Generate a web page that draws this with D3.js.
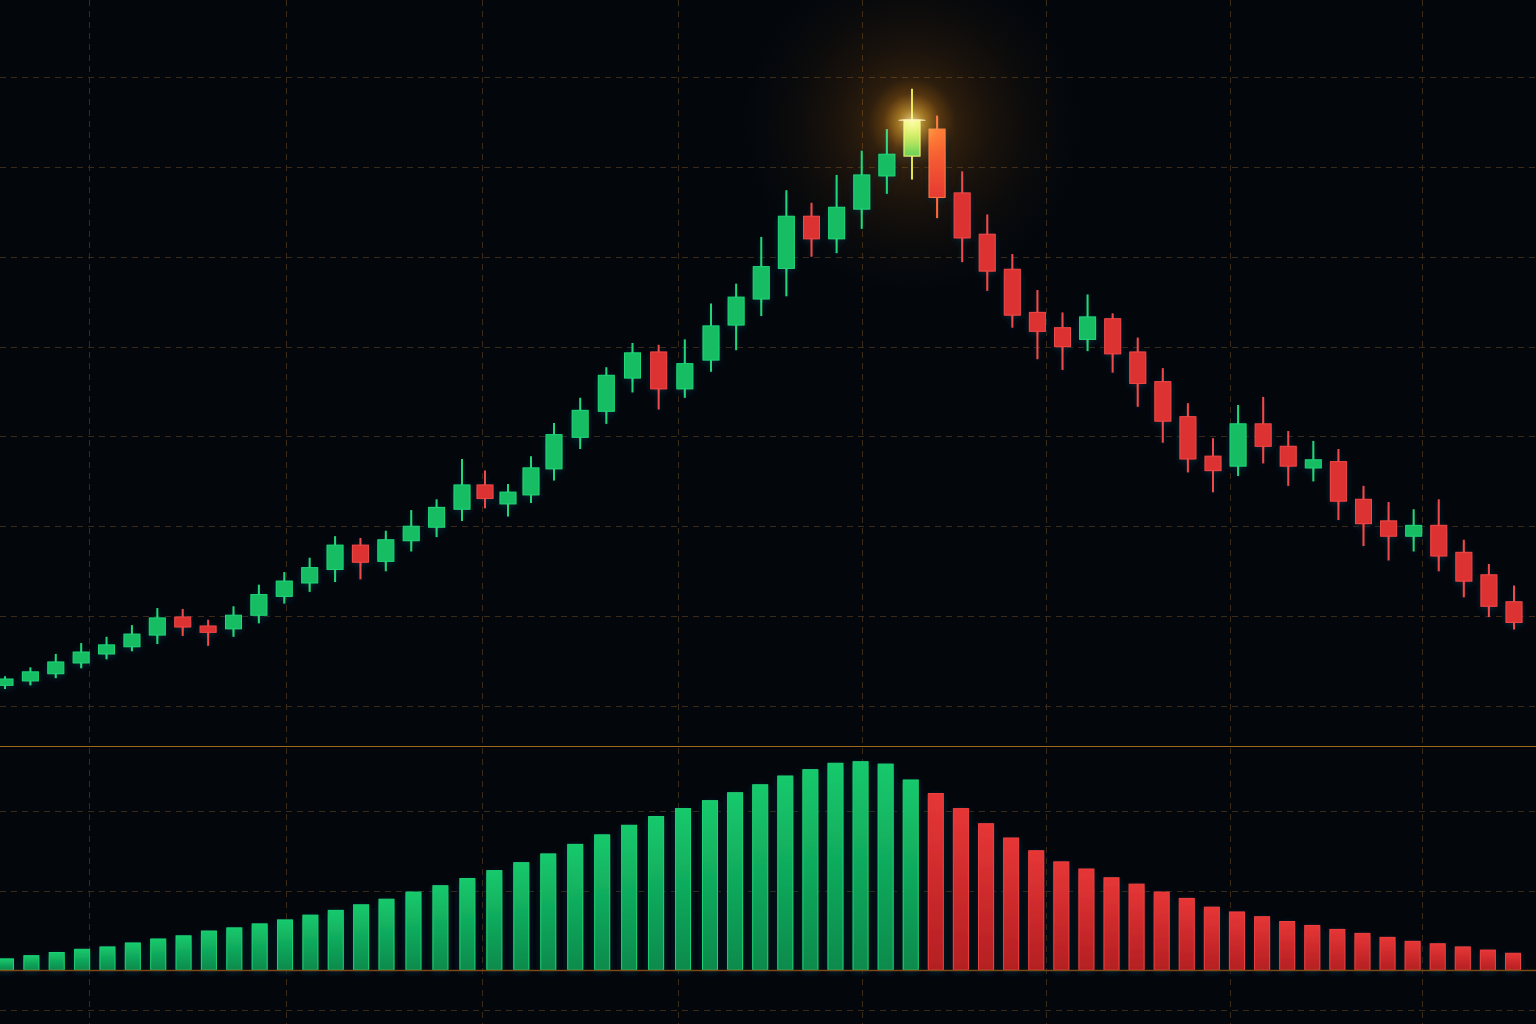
<!DOCTYPE html>
<html>
<head>
<meta charset="utf-8">
<script src="https://cdn.jsdelivr.net/npm/d3@7"></script>
<style>
  html, body { margin: 0; padding: 0; background: #03070c; overflow: hidden; }
  svg { display: block; }
</style>
</head>
<body>
<svg id="chart" width="1536" height="1024"></svg>
<script>
// ---------------- DATA ----------------
const sessions = d3.range(0, 61);

const opens  = [102.3,102.8,103.6,104.8,105.8,106.6,107.9,109.9,108.9,108.6,
                110.1,112.2,113.7,115.2,117.9,116.1,118.4,119.9,121.9,124.6,
                122.5,123.5,126.4,129.9,132.8,136.5,139.4,135.3,138.5,142.4,
                145.3,148.7,154.5,152.0,155.3,159.0,161.2,164.2,157.1,152.5,
                148.6,143.8,142.1,140.8,143.1,139.4,136.1,132.2,127.8,126.7,
                131.4,128.9,126.5,127.2,123.0,120.6,118.9,120.1,117.1,114.6,
                111.6];
const highs  = [103.3,104.3,105.8,107.0,107.7,109.0,110.9,110.8,109.6,111.1,
                113.5,114.9,116.5,118.9,118.7,119.5,121.8,123.0,127.5,126.2,
                124.7,127.8,131.5,134.3,137.7,140.4,140.2,140.8,144.8,147.0,
                152.2,157.4,156.0,159.1,161.8,164.2,168.7,165.7,159.5,154.7,
                150.3,146.3,143.8,145.8,143.7,141.0,137.6,133.7,129.8,133.5,
                134.4,130.6,129.5,128.6,124.5,122.7,121.9,123.0,118.5,115.8,
                113.4];
const lows   = [101.9,102.3,103.1,104.2,105.2,106.1,106.9,107.8,106.7,107.7,
                109.2,111.4,112.7,113.8,114.1,115.0,117.2,118.8,120.6,122.0,
                121.1,122.6,125.1,128.6,131.4,134.9,133.0,134.3,137.2,139.6,
                143.4,145.6,150.0,150.4,153.1,157.0,158.6,154.3,149.4,146.2,
                142.1,138.6,137.4,139.5,137.1,133.3,129.3,126.0,123.8,125.6,
                127.0,124.5,125.0,120.7,117.8,116.2,117.2,115.0,112.1,109.9,
                108.5];
const closes = [103.0,103.8,104.9,106.0,106.8,108.0,109.8,108.8,108.2,110.1,
                112.4,113.9,115.4,117.9,116.0,118.5,120.0,122.1,124.6,123.1,
                123.8,126.5,130.2,132.9,136.8,139.3,135.3,138.1,142.3,145.5,
                148.9,154.5,152.0,155.5,159.1,161.4,165.2,156.6,152.1,148.4,
                143.5,141.7,140.0,143.3,139.2,135.9,131.7,127.5,126.2,131.4,
                128.9,126.7,127.4,122.8,120.3,118.9,120.1,116.7,113.9,111.1,
                109.3];

const volumes = [14,18,22,26,29,34,39,43,49,53,
                 58,63,69,75,82,89,98,106,115,125,
                 135,146,158,170,182,193,203,213,223,233,
                 244,252,260,262,259,239,222,203,184,166,
                 150,136,127,116,108,98,90,79,73,67,
                 61,56,51,46,41,36,33,29,25,21];
const volumeSides = ("U".repeat(36) + "D".repeat(24)).split("");

const priceTicks  = [100,110,120,130,140,150,160,170];
const volumeTicks = [-50,100,200];
const timeTicks   = [3.31,11.07,18.87,26.74,34.01,41.34,48.68,56.33];
const peakSession = 36;

// ---------------- LAYOUT ----------------
const W = 1536, H = 1024;
const svg = d3.select("#chart");

const x  = d3.scaleLinear().domain([0, 18, 22, 28, 36, 60]).range([5, 462, 554, 711, 912, 1514]);
const xv = d3.scaleLinear().domain([0, 15, 27, 59]).range([6, 386.5, 710, 1513]);
const y  = d3.scaleLinear().domain([100, 170]).range([706, 77]);
const yv = d3.scaleLinear().domain([0, 200]).range([970, 811]);

const COL = {
  bg: "#03070c",
  grid: "#3a2b18",
  sep: "#a0661c",
  base: "#7a4a16",
  up: "#12bd63", upStroke: "#22d67a",
  dn: "#dc3232", dnStroke: "#f04848"
};

const defs = svg.append("defs");

function vGrad(id, stops) {
  const g = defs.append("linearGradient").attr("id", id)
    .attr("x1", 0).attr("y1", 0).attr("x2", 0).attr("y2", 1);
  stops.forEach(s => g.append("stop").attr("offset", s[0]).attr("stop-color", s[1]).attr("stop-opacity", s[2] ?? 1));
}
vGrad("volUp", [[0, "#15c96c"], [1, "#0c8a4c"]]);
vGrad("volDn", [[0, "#e63636"], [1, "#b41f22"]]);
vGrad("peakBody", [[0, "#e2f25c"], [1, "#58cf58"]]);
vGrad("peakRed", [[0, "#ff7434"], [1, "#e63a30"]]);

function rGrad(id, stops) {
  const g = defs.append("radialGradient").attr("id", id);
  stops.forEach(s => g.append("stop").attr("offset", s[0]).attr("stop-color", s[1]).attr("stop-opacity", s[2]));
}
rGrad("haze", [[0, "#ff9a1a", 0.30], [0.45, "#b8620c", 0.13], [1, "#402000", 0]]);
rGrad("core", [[0, "#ffe890", 0.85], [0.3, "#ffb830", 0.5], [0.65, "#ff8a10", 0.15], [1, "#ff8000", 0]]);

const sh = defs.append("filter").attr("id", "shadow")
  .attr("x", "-50%").attr("y", "-50%").attr("width", "200%").attr("height", "200%");
sh.append("feDropShadow").attr("dx", 0).attr("dy", 2).attr("stdDeviation", 3)
  .attr("flood-color", "#0b2236").attr("flood-opacity", 0.9);

// background
svg.append("rect").attr("width", W).attr("height", H).attr("fill", COL.bg);

// grid
const grid = svg.append("g").attr("stroke", COL.grid).attr("stroke-width", 1)
  .attr("stroke-dasharray", "6,5").attr("fill", "none");
grid.selectAll("line.v").data(timeTicks).join("line").attr("class", "v")
  .attr("x1", d => Math.round(x(d)) + 0.5).attr("x2", d => Math.round(x(d)) + 0.5)
  .attr("y1", 0).attr("y2", H);
grid.selectAll("line.h").data(priceTicks).join("line").attr("class", "h")
  .attr("x1", 0).attr("x2", W)
  .attr("y1", d => Math.round(y(d)) + 0.5).attr("y2", d => Math.round(y(d)) + 0.5);
grid.selectAll("line.hv").data(volumeTicks).join("line").attr("class", "hv")
  .attr("x1", 0).attr("x2", W)
  .attr("y1", d => Math.round(yv(d)) + 0.5).attr("y2", d => Math.round(yv(d)) + 0.5);

// panel separator
svg.append("line").attr("x1", 0).attr("x2", W).attr("y1", 746.5).attr("y2", 746.5)
  .attr("stroke", COL.sep).attr("stroke-width", 1.2);

// glow haze behind peak
const px = x(peakSession), py = y(closes[peakSession]);
svg.append("circle").attr("cx", px).attr("cy", py + 5).attr("r", 170).attr("fill", "url(#haze)");

// ---------------- CANDLES ----------------
const candles = sessions.map(i => ({
  i, o: opens[i], h: highs[i], l: lows[i], c: closes[i], up: closes[i] >= opens[i]
}));

const cg = svg.append("g").attr("filter", "url(#shadow)");
const bodyW = 16;

cg.selectAll("line.wick").data(candles).join("line").attr("class", "wick")
  .attr("x1", d => x(d.i)).attr("x2", d => x(d.i))
  .attr("y1", d => y(d.h)).attr("y2", d => y(d.l))
  .attr("stroke-width", 2)
  .attr("stroke", d => d.i === peakSession ? "#e6e04a" : (d.i === peakSession + 1 ? "#ff6a3a" : (d.up ? COL.upStroke : COL.dnStroke)));

cg.selectAll("rect.body").data(candles).join("rect").attr("class", "body")
  .attr("x", d => x(d.i) - bodyW / 2)
  .attr("width", bodyW)
  .attr("y", d => y(Math.max(d.o, d.c)))
  .attr("height", d => Math.max(2, Math.abs(y(d.o) - y(d.c))))
  .attr("fill", d => d.i === peakSession ? "url(#peakBody)" : (d.i === peakSession + 1 ? "url(#peakRed)" : (d.up ? COL.up : COL.dn)))
  .attr("stroke", d => d.i === peakSession ? "#f2f070" : (d.i === peakSession + 1 ? "#ff7a40" : (d.up ? COL.upStroke : COL.dnStroke)))
  .attr("stroke-width", 1);

// bright core glow on top of the peak candle
svg.append("circle").attr("cx", px).attr("cy", py + 2).attr("r", 44)
  .attr("fill", "url(#core)").style("mix-blend-mode", "screen");
svg.append("ellipse").attr("cx", px).attr("cy", py).attr("rx", 14).attr("ry", 1.2)
  .attr("fill", "#fff6c0").attr("opacity", 0.7);

// ---------------- VOLUME ----------------
const vols = volumes.map((v, i) => ({ i, v, up: volumeSides[i] === "U" }));
const vg = svg.append("g").attr("filter", "url(#shadow)");
const volW = 15;
vg.selectAll("rect.vol").data(vols).join("rect").attr("class", "vol")
  .attr("x", d => xv(d.i) - volW / 2)
  .attr("width", volW)
  .attr("y", d => yv(d.v))
  .attr("height", d => yv(0) - yv(d.v))
  .attr("fill", d => d.up ? "url(#volUp)" : "url(#volDn)")
  .attr("stroke", d => d.up ? "#1fd176" : "#ee4040")
  .attr("stroke-width", 1);

svg.append("line").attr("x1", 0).attr("x2", W).attr("y1", yv(0) + 0.5).attr("y2", yv(0) + 0.5)
  .attr("stroke", COL.base).attr("stroke-width", 1.3);
</script>
</body>
</html>
